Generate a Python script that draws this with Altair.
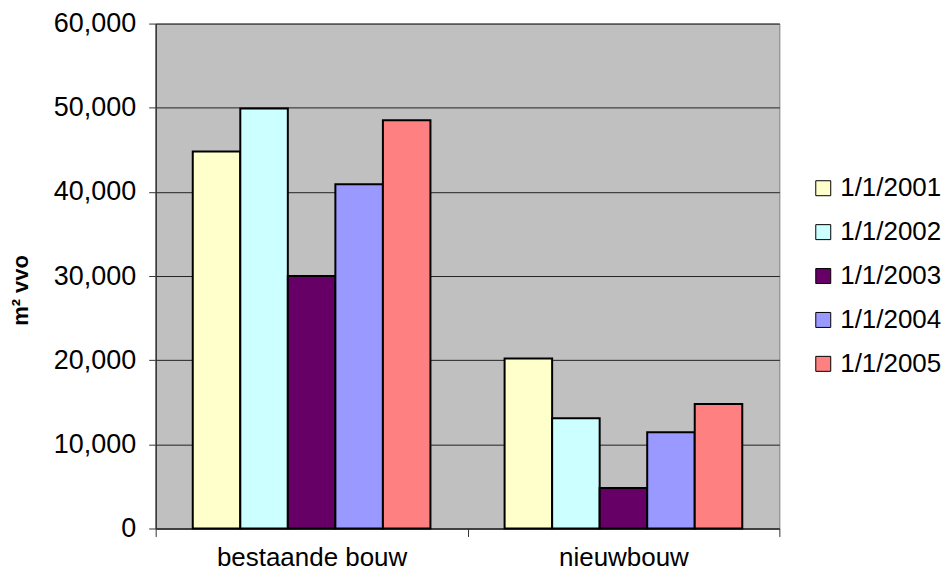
import altair as alt
import pandas as pd

categories = ["bestaande bouw", "nieuwbouw"]
series = ["1/1/2001", "1/1/2002", "1/1/2003", "1/1/2004", "1/1/2005"]
values_bestaande = [44800, 49900, 30000, 40900, 48500]
values_nieuwbouw = [20200, 13100, 4800, 11450, 14800]
colors = ["#FFFFCC", "#CCFFFF", "#660066", "#9999FF", "#FF8080"]
y_ticks = [0, 10000, 20000, 30000, 40000, 50000, 60000]

rows = []
for s, a, b in zip(series, values_bestaande, values_nieuwbouw):
    rows.append({"cat": categories[0], "series": s, "value": a})
    rows.append({"cat": categories[1], "series": s, "value": b})
df = pd.DataFrame(rows)

FONT = "Liberation Sans"

chart = alt.Chart(df).mark_bar(stroke="black", strokeWidth=2).encode(
    x=alt.X("cat:N", sort=categories, title=None,
            scale=alt.Scale(paddingInner=0, paddingOuter=0),
            axis=alt.Axis(labelAngle=0, tickBand="extent", tickSize=8,
                          labelBaseline="alphabetic", labelPadding=29, labelLimit=0,
                          domainColor="#333333", tickColor="#333333", domainWidth=1.5,
                          grid=False,
                          labelFontSize=26, labelFont=FONT, labelColor="black")),
    xOffset=alt.XOffset("series:N", sort=series,
                        scale=alt.Scale(paddingInner=0, paddingOuter=0.78)),
    y=alt.Y("value:Q", title="m² vvo",
            scale=alt.Scale(domain=[0, 60000], nice=False),
            axis=alt.Axis(values=y_ticks, format=",d",
                          tickSize=7, labelPadding=13, domainColor="#333333",
                          tickColor="#333333", domainWidth=1.5,
                          gridColor="#222222", gridWidth=1,
                          labelFontSize=27, labelFont=FONT, labelColor="black",
                          titleFontSize=22, titleFont=FONT, titleFontWeight="bold",
                          titleColor="black", titlePadding=21, titleY=267)),
    color=alt.Color("series:N", sort=series,
                    scale=alt.Scale(domain=series, range=colors),
                    legend=alt.Legend(title=None, orient="none", legendX=656, legendY=152,
                                      padding=0,
                                      symbolType="square", symbolSize=225,
                                      symbolStrokeColor="black", symbolStrokeWidth=1,
                                      labelFontSize=26, labelFont=FONT, labelColor="black",
                                      rowPadding=18, labelOffset=4)),
).properties(
    width=625, height=506,
    autosize=alt.AutoSizeParams(type="none"),
    padding={"left": 148, "top": 15, "right": 165, "bottom": 45},
).configure_view(
    fill="#C0C0C0", stroke="#808080"
)

chart.save("out.html", embed_options={"renderer": "svg", "actions": False})
